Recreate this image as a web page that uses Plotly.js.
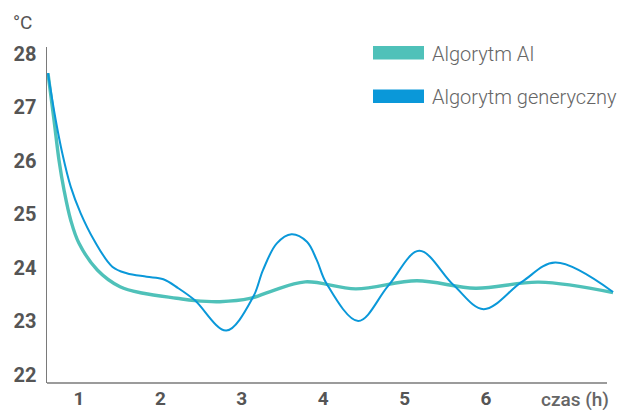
<!DOCTYPE html>
<html>
<head>
<meta charset="utf-8">
<script src="https://cdn.plot.ly/plotly-3.0.1.min.js"></script>
<style>
  html, body { margin: 0; padding: 0; background: #fff; }
  #chart { width: 621px; height: 410px; }
</style>
</head>
<body>
<div id="chart"></div>
<script>
// Series: Algorytm AI
const aiHours = [0.619, 0.693, 0.754, 0.816, 0.898, 1.0, 1.225, 1.504, 1.79, 2.2, 2.42, 2.73, 3.10, 3.35, 3.78, 4.4, 5.15, 5.87, 6.65, 7.56];
const aiTemp  = [27.64, 26.766, 26.019, 25.458, 24.897, 24.462, 23.963, 23.65, 23.527, 23.434, 23.39, 23.37, 23.43, 23.56, 23.74, 23.61, 23.76, 23.62, 23.735, 23.54];

// Series: Algorytm generyczny
const genHours = [0.619, 0.714, 0.795, 0.898, 1.021, 1.184, 1.409, 1.586, 1.832, 2.036, 2.22, 2.42, 2.81, 3.14, 3.26, 3.43, 3.61, 3.80, 3.92, 4.04, 4.43, 4.8, 5.18, 5.6, 5.97, 6.44, 6.85, 7.56];
const genTemp  = [27.64, 26.766, 26.144, 25.52, 25.02, 24.523, 24.024, 23.901, 23.837, 23.789, 23.621, 23.40, 22.83, 23.46, 23.96, 24.46, 24.63, 24.49, 24.15, 23.71, 23.01, 23.67, 24.32, 23.68, 23.23, 23.74, 24.10, 23.55];

const xTicks = [1, 2, 3, 4, 5, 6];
const yTicks = [22, 23, 24, 25, 26, 27, 28];
const seriesNames = ['Algorytm AI', 'Algorytm generyczny'];
const unitLabel = '°C';
const timeLabel = 'czas (h)';

const teal = '#4fc1b9';
const blue = '#0a98d9';
const axisGray = '#7a7a7a';
const textGray = '#555555';

const W = 621, H = 410;
const L = 47, R = 7, T = 47, B = 27;
const pw = W - L - R, ph = H - T - B;
const px = v => (v - L) / pw;         // pixel x -> paper
const py = v => (H - B - v) / ph;     // pixel y -> paper

const traces = [
  { x: aiHours, y: aiTemp, name: seriesNames[0], mode: 'lines',
    line: { color: teal, width: 3.4, shape: 'spline', smoothing: 1 }, showlegend: false, hoverinfo: 'skip' },
  { x: genHours, y: genTemp, name: seriesNames[1], mode: 'lines',
    line: { color: blue, width: 2, shape: 'spline', smoothing: 1 }, showlegend: false, hoverinfo: 'skip' }
];

const layout = {
  width: W, height: H,
  margin: { l: L, r: R, t: T, b: B, pad: 0 },
  paper_bgcolor: '#ffffff', plot_bgcolor: '#ffffff',
  showlegend: false,
  xaxis: {
    range: [0.607, 7.572], tickvals: xTicks, ticktext: xTicks.map(String),
    showgrid: false, zeroline: false, showline: false, ticks: '',
    ticklabelstandoff: 2,
    tickfont: { family: 'Roboto', size: 19, weight: 700, color: textGray }
  },
  yaxis: {
    range: [21.85, 28.13], tickvals: yTicks, ticktext: yTicks.map(String),
    showgrid: false, zeroline: false, showline: true, linecolor: axisGray, linewidth: 1.5,
    ticks: '', ticklabelstandoff: 5,
    tickfont: { family: 'Roboto', size: 20, weight: 700, color: textGray }
  },
  shapes: [
    { type: 'line', xref: 'paper', yref: 'paper', x0: 0, x1: px(607), y0: 0, y1: 0,
      line: { color: axisGray, width: 1.5 } },
    { type: 'rect', xref: 'paper', yref: 'paper', x0: px(373), x1: px(424), y0: py(59.5), y1: py(46),
      fillcolor: teal, line: { width: 0 } },
    { type: 'rect', xref: 'paper', yref: 'paper', x0: px(373), x1: px(424), y0: py(103), y1: py(89.5),
      fillcolor: blue, line: { width: 0 } }
  ],
  annotations: [
    { xref: 'paper', yref: 'paper', x: px(430), y: py(54), xanchor: 'left', yanchor: 'middle',
      text: seriesNames[0], showarrow: false,
      font: { family: 'Roboto', size: 20, weight: 300, color: '#666666' } },
    { xref: 'paper', yref: 'paper', x: px(430), y: py(97), xanchor: 'left', yanchor: 'middle',
      text: seriesNames[1], showarrow: false,
      font: { family: 'Roboto', size: 20, weight: 300, color: '#666666' } },
    { xref: 'paper', yref: 'paper', x: px(11), y: py(22), xanchor: 'left', yanchor: 'middle',
      text: unitLabel, showarrow: false,
      font: { family: 'Roboto', size: 19, weight: 400, color: textGray } },
    { xref: 'paper', yref: 'paper', x: px(574.5), y: py(399), xanchor: 'center', yanchor: 'middle',
      text: timeLabel, showarrow: false,
      font: { family: 'Roboto', size: 19, weight: 500, color: '#666666' } }
  ]
};

Plotly.newPlot('chart', traces, layout, { staticPlot: true, displayModeBar: false });
</script>
</body>
</html>
